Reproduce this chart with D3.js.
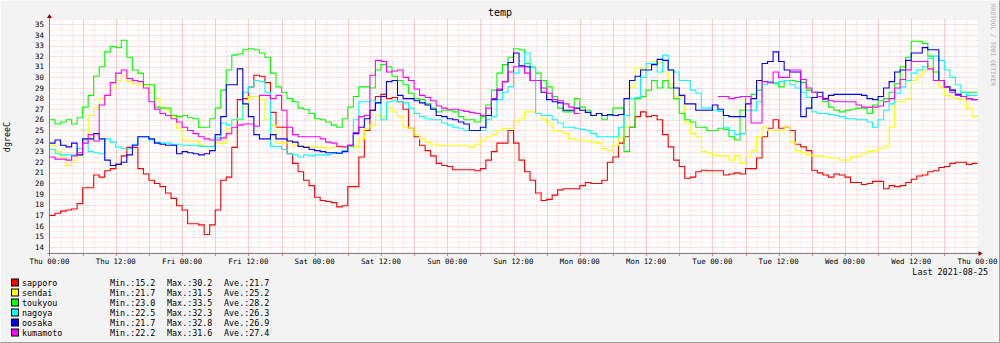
<!DOCTYPE html>
<html>
<head>
<meta charset="utf-8">
<script src="https://cdn.jsdelivr.net/npm/d3@7"></script>
<style>
  body { margin: 0; background: #f3f3f3; }
  text { font-family: "DejaVu Sans Mono", monospace; }
</style>
</head>
<body>
<div class="chart"></div>
<script>
// hourly values, Thu 2021-08-19 00:00 .. Thu 2021-08-26 00:00
const cities = ["sapporo", "sendai", "toukyou", "nagoya", "oosaka", "kumamoto"];
const colors = ["#ff0000", "#ffff00", "#00ff00", "#00ffff", "#0000ff", "#ff00ff"];

const sapporo = [
  17.0, 17.2, 17.4, 17.5, 17.6, 18.1, 19.6, 19.6, 20.8, 20.6, 21.2, 21.4,
  21.8, 22.6, 23.4, 23.4, 21.4, 20.9, 20.3, 20.0, 19.7, 19.1, 18.6, 17.9,
  17.5, 16.2, 16.2, 16.1, 15.2, 16.1, 17.5, 20.3, 20.6, 23.4, 27.9, 28.0,
  29.1, 30.2, 30.1, 29.5, 26.7, 25.3, 25.3, 22.8, 21.9, 21.1, 20.3, 19.8,
  18.7, 18.4, 18.3, 18.2, 17.8, 17.9, 19.7, 19.7, 22.5, 25.0, 26.9, 28.2,
  28.4, 28.0, 28.1, 27.7, 27.0, 25.2, 24.4, 23.6, 23.1, 22.6, 21.9, 21.7,
  21.6, 21.3, 21.3, 21.3, 21.3, 21.2, 21.4, 22.2, 23.0, 23.8, 23.8, 25.0,
  23.8, 22.2, 21.1, 20.3, 19.1, 18.4, 18.5, 18.9, 19.4, 19.5, 19.5, 19.5,
  19.8, 20.1, 20.0, 20.0, 20.3, 22.0, 22.5, 23.8, 24.4, 25.3, 26.3, 26.75,
  26.3, 26.4, 26.0, 24.6, 23.45, 22.2, 21.6, 20.5, 20.6, 21.1, 21.25, 21.2,
  21.2, 21.2, 20.8, 20.9, 21.0, 20.9, 21.4, 21.4, 22.4, 24.4, 25.2, 26.0,
  25.2, 25.3, 25.0, 23.7, 23.45, 23.1, 21.25, 21.0, 20.8, 20.6, 20.9, 20.8,
  20.6, 20.1, 20.1, 19.9, 20.0, 20.2, 20.2, 19.5, 19.8, 19.7, 19.8, 20.1,
  20.4, 20.7, 20.8, 21.1, 21.2, 21.5, 21.6, 21.9, 22.0, 22.0, 21.8, 21.9
];
const sendai = [
  23.6, 23.0, 22.5, 21.7, 22.2, 22.6, 24.2, 26.4, 27.1, 28.0, 28.3, 29.0,
  29.7, 30.2, 29.6, 29.4, 29.3, 29.3, 28.6, 28.0, 27.1, 26.9, 26.3, 25.2,
  24.1, 24.0, 24.0, 23.6, 23.5, 23.5, 23.8, 23.8, 25.2, 26.0, 26.1, 27.2,
  28.2, 28.2, 27.9, 26.0, 25.5, 23.8, 23.8, 24.0, 23.6, 23.5, 23.5, 23.4,
  23.4, 23.4, 23.3, 23.4, 23.4, 23.4, 23.4, 23.45, 24.2, 25.2, 25.5, 26.4,
  26.3, 27.1, 26.75, 26.3, 25.3, 25.2, 24.6, 24.2, 23.9, 23.7, 23.6, 23.6,
  23.6, 23.6, 23.6, 23.6, 23.45, 23.7, 24.1, 24.4, 24.6, 25.0, 25.2, 25.2,
  25.8, 26.1, 26.75, 26.75, 26.6, 26.1, 25.7, 25.0, 24.9, 24.7, 24.2, 24.1,
  24.1, 24.0, 23.9, 23.8, 23.3, 23.1, 23.6, 24.3, 25.3, 29.1, 30.9, 30.8,
  31.0, 31.5, 31.4, 30.5, 29.4, 28.2, 28.2, 25.7, 24.7, 24.4, 23.0, 22.9,
  22.7, 22.6, 22.6, 22.2, 22.6, 21.9, 22.5, 23.1, 24.4, 25.3, 25.0, 25.0,
  25.0, 25.3, 23.9, 23.1, 22.9, 22.7, 22.6, 22.6, 22.5, 22.4, 22.4, 22.2,
  22.2, 22.5, 22.6, 22.8, 23.0, 23.1, 23.3, 23.5, 25.3, 27.7, 27.7, 28.0,
  29.7, 30.1, 30.7, 31.0, 30.5, 29.1, 28.3, 28.1, 28.0, 27.9, 27.1, 26.3
];
const toukyou = [
  26.0, 25.6, 25.8, 26.0, 25.6, 26.2, 27.2, 28.3, 30.1, 31.0, 32.4, 32.9,
  32.8, 33.5, 31.9, 30.7, 30.4, 29.3, 29.3, 27.2, 27.1, 27.1, 26.4, 26.3,
  26.4, 26.2, 26.1, 25.3, 25.3, 26.1, 27.1, 28.8, 30.7, 32.1, 32.2, 32.6,
  32.7, 32.6, 32.3, 31.9, 30.4, 29.1, 28.6, 28.0, 27.7, 27.1, 27.0, 26.6,
  26.1, 26.0, 25.8, 25.5, 25.3, 26.1, 27.2, 28.2, 29.1, 29.1, 29.0, 30.7,
  31.2, 31.0, 30.1, 29.7, 29.3, 28.5, 28.0, 27.9, 27.5, 27.1, 26.75, 26.9,
  26.9, 26.75, 26.3, 26.0, 26.0, 25.8, 26.3, 27.4, 28.8, 30.4, 31.2, 31.9,
  32.7, 32.6, 31.3, 30.9, 30.4, 29.7, 29.1, 28.2, 27.1, 26.75, 26.75, 28.0,
  27.2, 26.9, 26.4, 26.6, 26.0, 26.4, 27.1, 27.1, 23.0, 25.3, 28.0, 28.2,
  28.8, 29.7, 29.0, 29.7, 29.0, 28.0, 26.6, 26.0, 25.8, 25.3, 25.3, 25.0,
  25.0, 25.2, 25.1, 24.4, 24.1, 26.9, 28.2, 28.4, 28.8, 29.6, 29.6, 29.4,
  29.1, 29.7, 29.7, 29.6, 29.5, 28.8, 28.6, 28.2, 27.7, 27.2, 26.9, 26.75,
  26.9, 27.0, 27.1, 27.1, 26.6, 27.4, 27.8, 28.0, 28.6, 29.4, 31.0, 31.9,
  33.4, 33.4, 33.2, 32.0, 30.5, 29.7, 29.1, 28.8, 28.3, 28.6, 28.6, 28.6
];
const nagoya = [
  23.2, 22.8, 22.7, 22.7, 22.7, 23.3, 24.1, 23.0, 22.9, 22.8, 24.2, 23.9,
  23.45, 23.3, 23.3, 23.7, 24.4, 24.4, 24.1, 23.9, 23.8, 23.8, 23.7, 23.7,
  23.6, 23.6, 23.6, 23.5, 23.5, 23.5, 24.3, 25.7, 25.5, 26.0, 26.0, 28.6,
  29.1, 29.7, 29.6, 28.6, 23.5, 23.5, 23.2, 22.8, 22.7, 22.5, 22.7, 22.6,
  22.7, 22.7, 22.7, 22.85, 22.9, 23.1, 23.5, 26.0, 27.7, 27.7, 27.8, 27.6,
  26.0, 27.7, 27.8, 27.7, 27.6, 27.1, 26.6, 26.3, 26.1, 26.0, 26.0, 25.7,
  25.5, 25.3, 25.2, 25.0, 25.0, 25.0, 25.0, 26.0, 26.3, 27.9, 28.6, 29.1,
  30.4, 31.0, 32.3, 31.0, 26.6, 26.4, 26.4, 26.0, 25.7, 25.3, 25.3, 25.2,
  25.1, 25.0, 24.7, 24.4, 24.4, 24.4, 24.4, 25.3, 26.4, 28.0, 28.1, 30.0,
  31.3, 31.3, 30.5, 32.1, 30.7, 30.5, 29.7, 29.7, 28.8, 28.5, 27.1, 27.1,
  26.9, 26.8, 25.3, 25.0, 24.6, 24.7, 26.9, 26.9, 27.7, 29.3, 29.6, 29.5,
  29.6, 29.7, 29.3, 29.0, 28.6, 28.1, 26.75, 26.6, 26.6, 26.5, 26.4, 26.3,
  26.1, 26.1, 26.0, 26.0, 25.8, 25.3, 26.0, 26.9, 27.5, 28.5, 29.1, 29.7,
  30.4, 30.7, 31.0, 31.8, 32.0, 31.6, 30.7, 30.0, 29.3, 28.6, 28.3, 28.3
];
const oosaka = [
  23.8, 24.1, 23.6, 23.45, 23.8, 22.7, 24.2, 24.2, 24.7, 24.2, 22.2, 21.7,
  21.8, 22.0, 22.7, 23.6, 24.4, 24.4, 24.2, 23.8, 23.7, 23.6, 23.6, 22.8,
  23.0, 22.9, 22.8, 22.7, 22.8, 23.1, 24.6, 26.3, 29.3, 29.3, 30.8, 27.5,
  26.3, 24.6, 24.2, 24.2, 24.6, 24.2, 24.2, 24.0, 23.9, 23.5, 23.4, 23.2,
  23.1, 23.0, 22.9, 22.9, 22.85, 23.0, 23.6, 24.7, 25.3, 26.1, 26.9, 27.6,
  28.2, 29.6, 29.7, 28.3, 28.0, 28.0, 27.8, 27.6, 27.4, 27.0, 26.4, 26.3,
  26.1, 26.0, 25.8, 25.6, 25.0, 25.0, 25.3, 26.4, 27.9, 28.8, 29.6, 31.4,
  32.3, 31.1, 31.0, 29.7, 29.7, 28.6, 27.9, 27.7, 27.6, 26.9, 26.9, 27.1,
  26.9, 26.7, 26.4, 26.6, 26.4, 26.5, 26.4, 26.5, 28.0, 29.7, 30.1, 30.7,
  30.7, 31.2, 31.7, 31.6, 30.7, 29.0, 28.3, 27.5, 27.5, 26.9, 26.9, 26.9,
  27.4, 27.0, 26.4, 26.3, 26.3, 26.3, 27.5, 28.0, 29.7, 31.3, 31.5, 32.4,
  31.5, 30.7, 30.5, 30.5, 26.3, 27.1, 28.1, 28.6, 28.0, 28.3, 28.4, 28.4,
  28.4, 28.4, 28.4, 28.3, 28.0, 27.9, 28.2, 29.0, 29.6, 30.5, 30.7, 31.6,
  32.3, 32.3, 32.8, 32.6, 32.6, 29.7, 29.1, 28.8, 28.4, 28.2, 28.0, 27.9
];
const kumamoto = [
  22.5, 22.3, 22.3, 22.2, 22.6, 22.9, 23.8, 24.6, 24.0, 27.4, 28.3, 29.5,
  30.4, 30.7, 29.9, 29.7, 29.6, 29.0, 27.7, 27.0, 26.6, 26.4, 26.1, 25.8,
  25.3, 25.0, 24.7, 24.4, 24.2, 24.1, 24.1, 24.3, 24.7, 25.3, 25.5, 25.6,
  25.6, 25.4, 28.3, 28.3, 28.0, 28.3, 26.9, 25.3, 24.6, 24.4, 24.4, 24.4,
  24.4, 24.2, 23.9, 23.8, 23.5, 23.45, 23.6, 24.8, 26.3, 26.4, 30.2, 31.6,
  31.5, 30.5, 30.6, 30.7, 30.0, 29.7, 28.9, 28.3, 28.1, 27.8, 27.3, 27.1,
  27.0, 27.0, 26.9, 26.8, 26.7, 26.6, 26.4, 27.1, 28.0, 28.9, 29.6, 30.5,
  31.0, 31.0, 30.4, 29.7, 29.7, 29.0, 28.5, 27.9, 27.8, 27.5, 27.2, 26.6,
  null, null, null, null, null, null, null, null, null, null, null, null,
  null, null, null, null, null, null, null, null, null, null, null, null,
  null, 28.2, 28.2, 28.0, 28.1, 28.2, 28.2, 25.7, 25.7, 29.6, 29.5, 30.5,
  30.0, 30.0, 30.7, 30.7, 29.8, 29.0, 28.6, 28.2, 27.9, 27.8, 27.7, 27.7,
  27.7, 27.7, 27.4, 27.2, 27.2, 27.2, 27.3, 27.7, 28.0, 29.0, 29.8, 30.7,
  31.5, 31.5, 31.5, 30.8, 29.7, 29.7, 29.1, 28.6, 28.3, 28.2, 28.0, 27.9
];
const series = [sapporo, sendai, toukyou, nagoya, oosaka, kumamoto];

// legend figures as printed
const statMin = ["15.2", "21.7", "23.0", "22.5", "21.7", "22.2"];
const statMax = ["30.2", "31.5", "33.5", "32.3", "32.8", "31.6"];
const statAve = ["21.7", "25.2", "28.2", "26.3", "26.9", "27.4"];

const yTicks = d3.range(14, 36);
const startTime = new Date(2021, 7, 19, 0, 0);
const endTime = new Date(2021, 7, 26, 0, 0);

const width = 1000, height = 343;
const plotL = 49.5, plotR = 977.5, plotT = 19, plotB = 253;

const svg = d3.select(".chart").append("svg")
    .attr("width", width)
    .attr("height", height);

svg.append("rect")
    .attr("width", width).attr("height", height)
    .attr("fill", "#f3f3f3");
// frame
svg.append("path")
    .attr("d", `M0.5,${height - 0.5}V0.5H${width - 0.5}`)
    .attr("stroke", "#fcfcfc").attr("fill", "none");
svg.append("path")
    .attr("d", `M0.5,${height - 0.5}H${width - 0.5}V0.5`)
    .attr("stroke", "#9e9e9e").attr("fill", "none");

const x = d3.scaleTime().domain([startTime, endTime]).range([plotL, plotR]);
const y = d3.scaleLinear().domain([13.45, 35.5]).range([plotB, plotT]);

svg.append("rect")
    .attr("x", plotL).attr("y", plotT)
    .attr("width", plotR - plotL).attr("height", plotB - plotT)
    .attr("fill", "#ffffff");

const crisp = v => Math.round(v) + 0.5;
const grid = svg.append("g").attr("shape-rendering", "crispEdges");

// horizontal grid
d3.range(27, 72).map(d => d / 2).forEach(v => {
    grid.append("line")
        .attr("x1", plotL).attr("x2", plotR)
        .attr("y1", crisp(y(v))).attr("y2", crisp(y(v)))
        .attr("stroke", "#ff0000")
        .attr("stroke-opacity", Number.isInteger(v) ? 0.12 : 0.07);
});

// vertical grid, 2h minor / 6h major
d3.timeHour.every(2).range(d3.timeHour.offset(startTime, 2), endTime).forEach(t => {
    const major = t.getHours() % 6 === 0;
    grid.append("line")
        .attr("x1", crisp(x(t))).attr("x2", crisp(x(t)))
        .attr("y1", plotT).attr("y2", plotB)
        .attr("stroke", "#ff0000")
        .attr("stroke-opacity", major ? 0.2 : 0.08);
    if (major) {
        grid.append("line")
            .attr("x1", crisp(x(t))).attr("x2", crisp(x(t)))
            .attr("y1", plotB).attr("y2", plotB + 3)
            .attr("stroke", "#e08080");
    }
});

// y labels
svg.append("g").selectAll("text")
    .data(yTicks)
    .join("text")
    .attr("x", 44)
    .attr("y", d => y(d) + 2.6)
    .attr("text-anchor", "end")
    .attr("font-size", 7.4)
    .attr("fill", "#000")
    .text(d => d);

// x labels
const fmt = d3.timeFormat("%a %H:%M");
svg.append("g").selectAll("text")
    .data(d3.timeHour.every(12).range(startTime, d3.timeHour.offset(endTime, 1)))
    .join("text")
    .attr("x", d => x(d))
    .attr("y", 264)
    .attr("text-anchor", "middle")
    .attr("font-size", 7.4)
    .attr("fill", "#000")
    .text(d => fmt(d));

// series
const hourX = h => x(d3.timeHour.offset(startTime, h));
const line = d3.line()
    .defined(d => d[1] != null)
    .x(d => hourX(d[0]))
    .y(d => y(d[1]));

series.forEach((vals, i) => {
    const pts = vals.flatMap((v, h) => [[h, v], [h + 1, v]]);
    svg.append("path")
        .datum(pts)
        .attr("d", line)
        .attr("fill", "none")
        .attr("stroke", colors[i])
        .attr("stroke-width", 1.1);
});

// axes
svg.append("line")
    .attr("x1", plotL - 2).attr("x2", plotR + 2)
    .attr("y1", plotB + 0.5).attr("y2", plotB + 0.5)
    .attr("stroke", "#808080");
svg.append("line")
    .attr("x1", plotL).attr("x2", plotL)
    .attr("y1", plotT - 2).attr("y2", plotB + 3)
    .attr("stroke", "#808080");
svg.append("path")
    .attr("d", `M${plotL - 2.5},${plotT - 1}L${plotL},${plotT - 5}L${plotL + 2.5},${plotT - 1}Z`)
    .attr("fill", "#a00000");
svg.append("path")
    .attr("d", `M${plotR + 1},${plotB - 2}L${plotR + 5},${plotB + 0.5}L${plotR + 1},${plotB + 3}Z`)
    .attr("fill", "#a00000");

// titles
svg.append("text")
    .attr("x", 500).attr("y", 16)
    .attr("text-anchor", "middle")
    .attr("font-size", 10)
    .text("temp");
svg.append("text")
    .attr("transform", "translate(10,137) rotate(-90)")
    .attr("text-anchor", "middle")
    .attr("font-size", 8.4)
    .text("dgreeC");
svg.append("text")
    .attr("transform", "translate(991,4) rotate(90)")
    .attr("font-size", 6.2)
    .attr("fill", "#b0b0b0")
    .text("RRDTOOL / TOBI OETIKER");
svg.append("text")
    .attr("x", 988).attr("y", 275)
    .attr("text-anchor", "end")
    .attr("font-size", 8.4)
    .text("Last 2021-08-25");

// legend
const legend = svg.append("g");
cities.forEach((name, i) => {
    const cy = 282.5 + i * 10;
    legend.append("rect")
        .attr("x", 11.5).attr("y", cy - 3.5)
        .attr("width", 7).attr("height", 7)
        .attr("fill", colors[i])
        .attr("stroke", "#000");
    const row = [[22, name], [110, "Min.:" + statMin[i]], [167, "Max.:" + statMax[i]], [224, "Ave.:" + statAve[i]]];
    row.forEach(([tx, s]) => {
        legend.append("text")
            .attr("x", tx).attr("y", cy + 3)
            .attr("font-size", 8.4)
            .text(s);
    });
});
</script>
</body>
</html>
